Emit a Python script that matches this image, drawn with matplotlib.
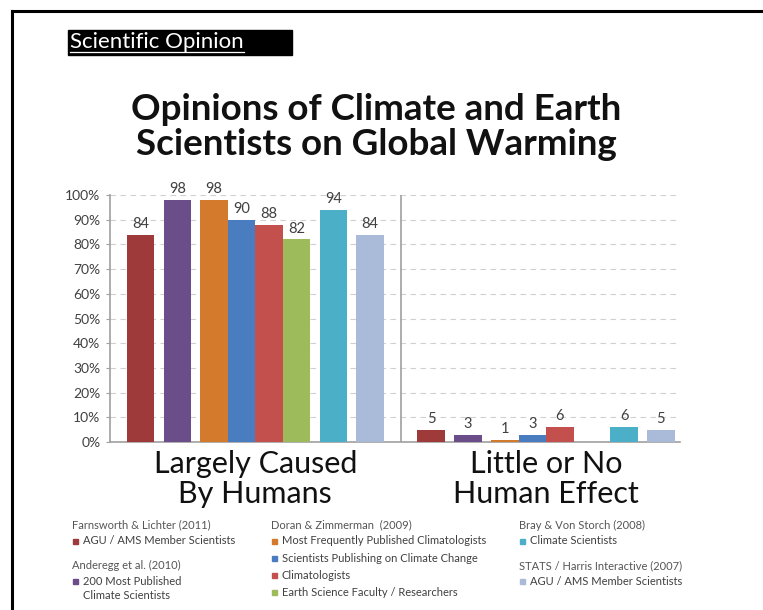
import matplotlib.pyplot as plt
from matplotlib.patches import Rectangle
from matplotlib.lines import Line2D
from matplotlib.transforms import blended_transform_factory

# Data
categories = ['Largely Caused\nBy Humans', 'Little or No\nHuman Effect']
largely_caused = [84, 98, 98, 90, 88, 82, 94, 84]
little_or_no = [5, 3, 1, 3, 6, None, 6, 5]
study_sizes = [1, 1, 4, 1, 1]  # bars per study, contiguous within a study
colors = ['#9E3A39', '#6B4D8A', '#D47A2C', '#4A7DC0', '#C4504E',
          '#9DBB5A', '#4BAFC8', '#AABAD9']
yticks = list(range(0, 101, 10))
title_lines = ['Opinions of Climate and Earth', 'Scientists on Global Warming']

legend_cols = [
    [('Farnsworth & Lichter (2011)', [(0, 'AGU / AMS Member Scientists')]),
     ('Anderegg et al. (2010)', [(1, '200 Most Published\nClimate Scientists')])],
    [('Doran & Zimmerman  (2009)', [(2, 'Most Frequently Published Climatologists'),
                                    (3, 'Scientists Publishing on Climate Change'),
                                    (4, 'Climatologists'),
                                    (5, 'Earth Science Faculty / Researchers')])],
    [('Bray & Von Storch (2008)', [(6, 'Climate Scientists')]),
     ('STATS / Harris Interactive (2007)', [(7, 'AGU / AMS Member Scientists')])],
]

plt.rcParams['font.family'] = ['Lato', 'DejaVu Sans']

W, H = 763, 610
fig = plt.figure(figsize=(W / 100, H / 100), dpi=100)


def fx(x):
    return x / W


def fy(y):
    return 1 - y / H


# slide frame (top and left edges)
fig.add_artist(Line2D([fx(12), 1], [fy(11), fy(11)], color='black', lw=2.2))
fig.add_artist(Line2D([fx(12), fx(12)], [fy(11), 0], color='black', lw=2.2))

# "Scientific Opinion" header
fig.add_artist(Rectangle((fx(68), fy(55)), fx(292) - fx(68), fy(30) - fy(55),
                         color='black', transform=fig.transFigure))
hdr = fig.text(fx(70), fy(48), 'Scientific Opinion', color='white',
               fontsize=16, va='baseline', ha='left')
fig.canvas.draw()
bb = hdr.get_window_extent()
fig.add_artist(Line2D([bb.x0 / W, bb.x1 / W], [fy(52), fy(52)],
                      color='white', lw=0.9))

# Title
for line, base in zip(title_lines, [120, 155]):
    fig.text(fx(376), fy(base), line, ha='center', va='baseline', fontsize=26.5,
             fontweight='bold', color='#111111')

# Chart
ax = fig.add_axes([fx(110), fy(442), (680 - 110) / W, (442 - 195) / H])
ax.set_xlim(0, (680 - 110) / 290.7)
ax.set_ylim(0, 100)
label_tr = blended_transform_factory(ax.transData, fig.transFigure)

bar_w, gap = 0.0946, 0.032
offsets = []
pos = 0.0
for size in study_sizes:
    for _ in range(size):
        offsets.append(pos)
        pos += bar_w
    pos += gap
total = pos - gap

for ci, vals in enumerate([largely_caused, little_or_no]):
    start = ci + 0.5 - total / 2
    xs = []
    for si, v in enumerate(vals):
        x = start + offsets[si]
        xs.append(x + bar_w / 2)
        if v is None:
            continue
        ax.bar(x, v, width=bar_w, align='edge', color=colors[si], zorder=3)
        ax.text(x + bar_w / 2, v + 1.5, str(v), ha='center', va='bottom',
                fontsize=10.5, color='#404040', zorder=4)
    # category label, one text per line so baselines can be set
    xc = (xs[0] + xs[-1]) / 2
    for line, base in zip(categories[ci].split('\n'), [473, 503]):
        ax.text(xc, fy(base), line, transform=label_tr, ha='center',
                va='baseline', fontsize=22, color='#111111', clip_on=False)

ax.set_yticks(yticks)
ax.set_yticklabels([f'{t}%' for t in yticks], fontsize=10, color='#404040')
ax.set_xticks([])
for t in yticks[1:]:
    ax.axhline(t, color='#D0D0D0', lw=0.8, dashes=(5, 4), zorder=1)
ax.axvline(1.0, color='#A0A0A0', lw=1.2, zorder=2)
for s in ['top', 'right']:
    ax.spines[s].set_visible(False)
for s in ['left', 'bottom']:
    ax.spines[s].set_color('#A0A0A0')
    ax.spines[s].set_linewidth(1.2)
ax.tick_params(axis='y', length=3, color='#A0A0A0', pad=4)
ax.set_facecolor('none')

# Legend below the chart
col_x = [72, 271, 519]
for cx, blocks in zip(col_x, legend_cols):
    y = 525
    for header, items in blocks:
        fig.text(fx(cx), fy(y), header, fontsize=8, color='#555555',
                 ha='left', va='center')
        y += 16
        for si, label in items:
            fig.add_artist(Rectangle((fx(cx + 1), fy(y + 2.5)), 5 / W, 5 / H,
                                     color=colors[si], transform=fig.transFigure))
            for k, part in enumerate(label.split('\n')):
                fig.text(fx(cx + 11), fy(y + 14 * k), part, fontsize=8,
                         color='#404040', ha='left', va='center')
            y += 17.3
        y += 7

fig.savefig('out.png', dpi=100)
